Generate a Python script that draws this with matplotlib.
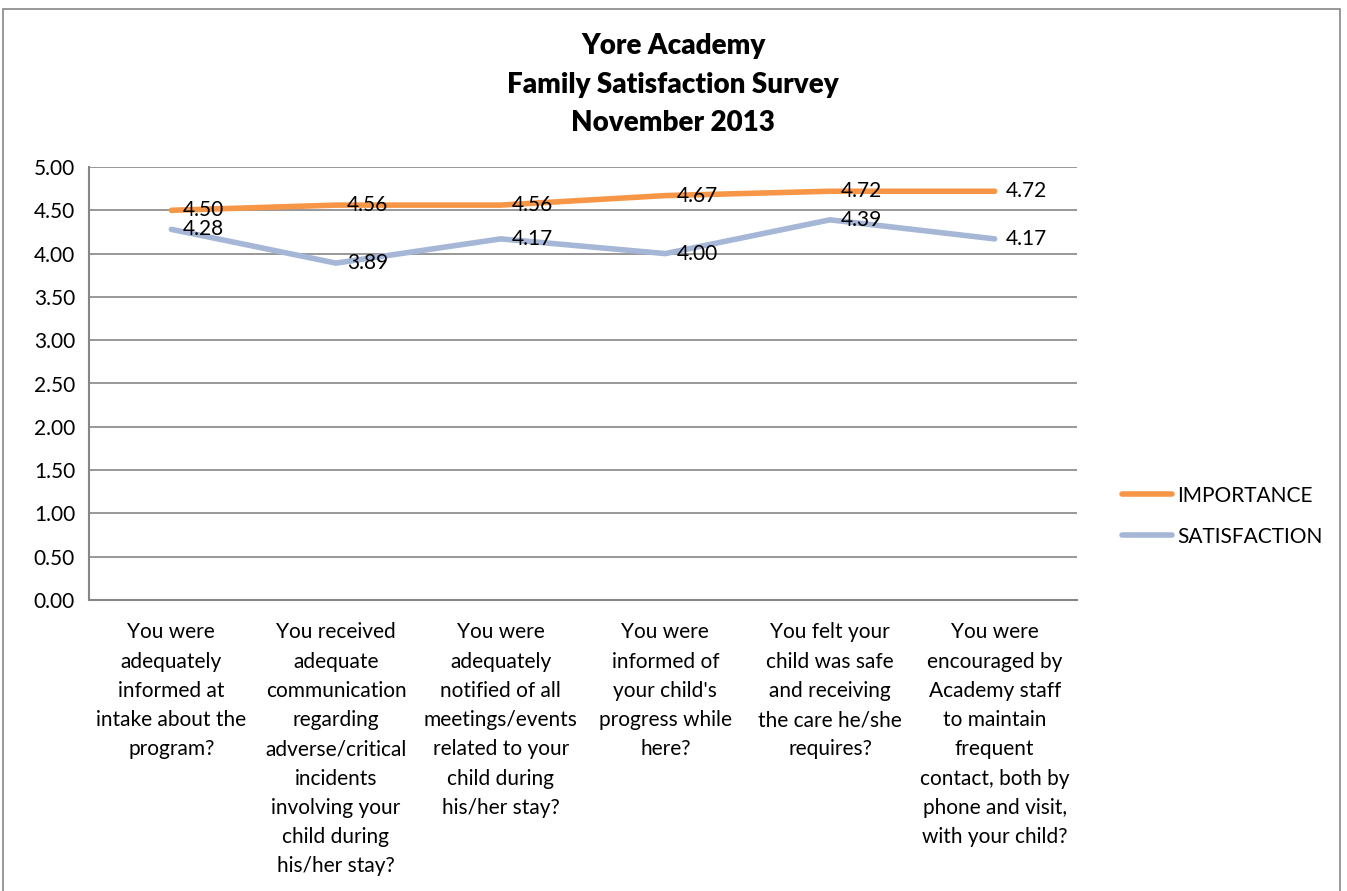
import matplotlib.pyplot as plt
from matplotlib.patches import Rectangle

questions = [
    "You were\nadequately\ninformed at\nintake about the\nprogram?",
    "You received\nadequate\ncommunication\nregarding\nadverse/critical\nincidents\ninvolving your\nchild during\nhis/her stay?",
    "You were\nadequately\nnotified of all\nmeetings/events\nrelated to your\nchild during\nhis/her stay?",
    "You were\ninformed of\nyour child's\nprogress while\nhere?",
    "You felt your\nchild was safe\nand receiving\nthe care he/she\nrequires?",
    "You were\nencouraged by\nAcademy staff\nto maintain\nfrequent\ncontact, both by\nphone and visit,\nwith your child?",
]
importance = [4.50, 4.56, 4.56, 4.67, 4.72, 4.72]
satisfaction = [4.28, 3.89, 4.17, 4.00, 4.39, 4.17]

plt.rcParams['font.family'] = ['Lato', 'DejaVu Sans']

W, H = 1347, 891
fig = plt.figure(figsize=(W / 100, H / 100), dpi=100)
ax = fig.add_axes([89 / W, 1 - 600 / H, (1077 - 89) / W, (600 - 167) / H])

# outer chart border (bottom edge falls outside the picture)
fig.patches.append(Rectangle((3 / W, -0.05), (1340 - 3) / W, 1.05 - 9 / H,
                             transform=fig.transFigure, fill=False,
                             edgecolor='#868686', linewidth=1.2))

x = list(range(len(questions)))
ax.plot(x, importance, color='#F79646', linewidth=4, solid_capstyle='round', label='IMPORTANCE')
ax.plot(x, satisfaction, color='#A5B6D6', linewidth=4, solid_capstyle='round', label='SATISFACTION')

for i in x:
    ax.annotate('%.2f' % importance[i], (i, importance[i]), xytext=(8, 0),
                textcoords='offset points', va='center', ha='left', fontsize=15)
    ax.annotate('%.2f' % satisfaction[i], (i, satisfaction[i]), xytext=(8, 0),
                textcoords='offset points', va='center', ha='left', fontsize=15)

ax.set_xlim(-0.5, len(questions) - 0.5)
ax.set_ylim(0, 5)
ax.set_yticks([i * 0.5 for i in range(11)])
ax.set_yticklabels(['%.2f' % (i * 0.5) for i in range(11)], fontsize=15)
ax.set_xticks(x)
ax.set_xticklabels(questions, fontsize=15, linespacing=1.58, va='top')
ax.tick_params(length=0)
ax.tick_params(axis='x', pad=16)
ax.tick_params(axis='y', pad=10)
ax.grid(axis='y', color='#868686', linewidth=1.2)
ax.set_axisbelow(True)
for s in ['top', 'right']:
    ax.spines[s].set_visible(False)
for s in ['left', 'bottom']:
    ax.spines[s].set_color('#868686')
    ax.spines[s].set_linewidth(1.5)

fig.text(673 / W, 1 - 33 / H,
         'Yore Academy\nFamily Satisfaction Survey\nNovember 2013',
         ha='center', va='top', fontsize=20, fontweight='heavy', linespacing=1.6)

fig.legend(loc='upper left', bbox_to_anchor=(1103 / W, 1 - 467 / H), frameon=False,
           fontsize=15, handlelength=2.4, handletextpad=0.25, labelspacing=1.0)

fig.savefig('out.png', dpi=100)
